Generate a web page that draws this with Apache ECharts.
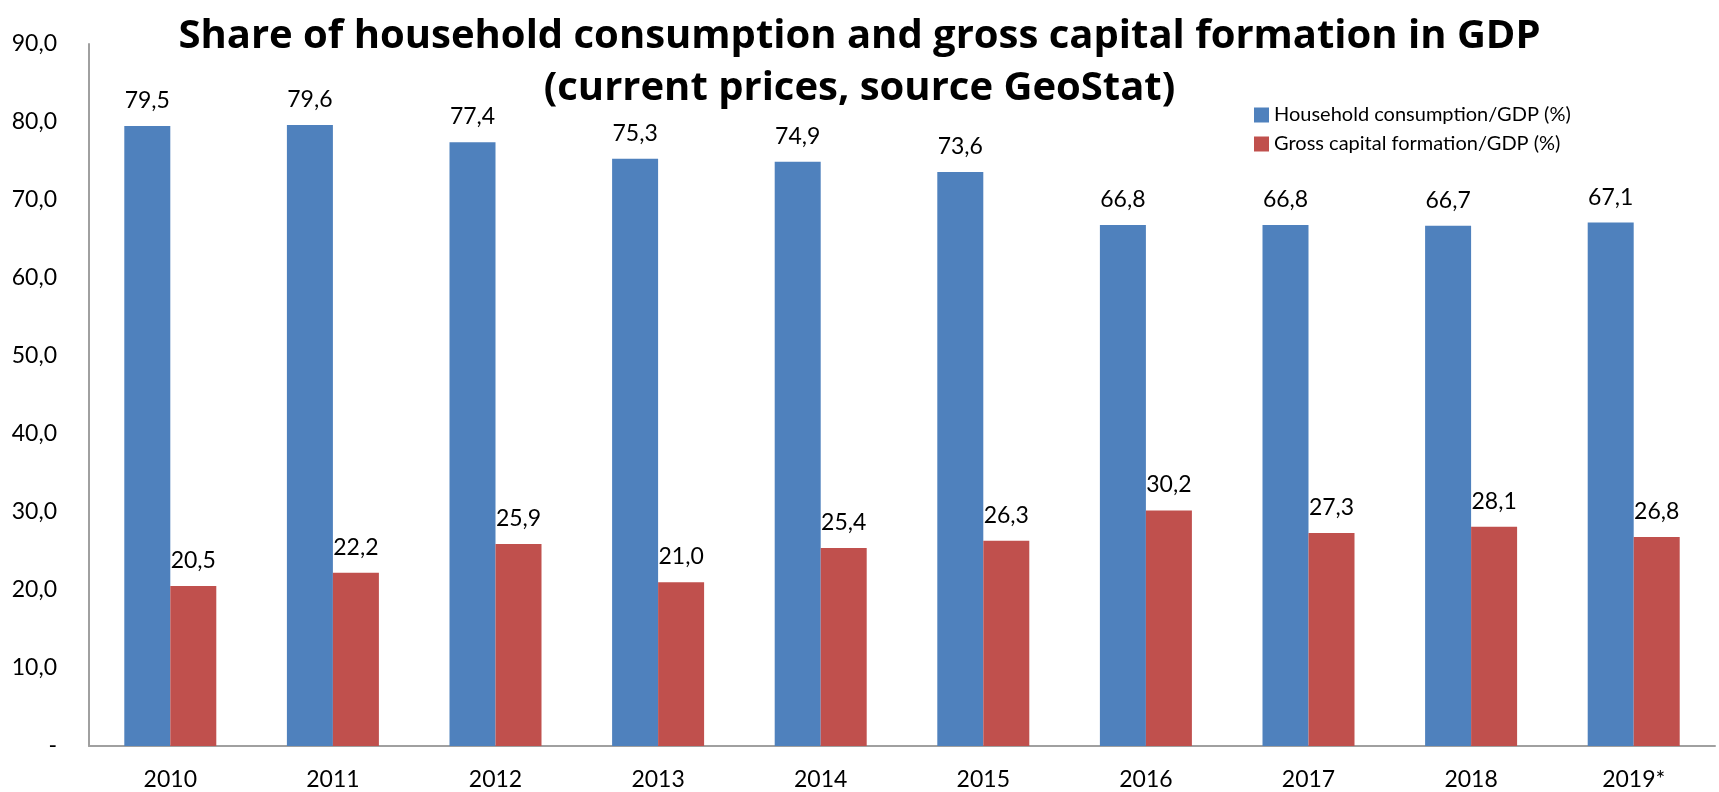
<!DOCTYPE html>
<html>
<head>
<meta charset="utf-8">
<script src="https://cdn.jsdelivr.net/npm/echarts@6/dist/echarts.min.js"></script>
<style>
  html, body { margin: 0; padding: 0; background: #fff; }
  #chart { width: 1719px; height: 792px; }
</style>
</head>
<body>
<div id="chart"></div>
<script>
// Years on the category axis
const years = ['2010', '2011', '2012', '2013', '2014', '2015', '2016', '2017', '2018', '2019*'];
// Household consumption as share of GDP, %
const householdConsumption = [79.5, 79.6, 77.4, 75.3, 74.9, 73.6, 66.8, 66.8, 66.7, 67.1];
// Gross capital formation as share of GDP, %
const grossCapitalFormation = [20.5, 22.2, 25.9, 21.0, 25.4, 26.3, 30.2, 27.3, 28.1, 26.8];
const seriesNames = ['Household consumption/GDP (%)', 'Gross capital formation/GDP (%)'];

const FONT = 'Lato, "Open Sans", sans-serif';
const TITLE_FONT = '"Open Sans", Lato, sans-serif';
const fmt = v => v === 0 ? '-' : v.toFixed(1).replace('.', ',');

const chart = echarts.init(document.getElementById('chart'));
chart.setOption({
  backgroundColor: '#ffffff',
  animation: false,
  title: {
    text: 'Share of household consumption and gross capital formation in GDP\n(current prices, source GeoStat)',
    left: 'center',
    top: 6,
    textStyle: {
      fontFamily: TITLE_FONT,
      fontWeight: 'bold',
      fontSize: 40,
      lineHeight: 52,
      color: '#000'
    }
  },
  legend: {
    orient: 'vertical',
    left: 1249,
    top: 100,
    itemWidth: 15,
    itemHeight: 15,
    itemGap: 9,
    icon: 'rect',
    textStyle: { fontFamily: FONT, fontSize: 20, color: '#000' },
    data: seriesNames
  },
  grid: { left: 89, right: 4, top: 44, bottom: 46, containLabel: false },
  xAxis: {
    type: 'category',
    data: years,
    axisLine: { lineStyle: { color: '#a0a0a0', width: 2 } },
    axisTick: { show: false },
    axisLabel: { fontFamily: FONT, fontSize: 23, color: '#000', margin: 22 }
  },
  yAxis: {
    type: 'value',
    min: 0,
    max: 90,
    interval: 10,
    axisLine: { show: true, lineStyle: { color: '#a0a0a0', width: 2 } },
    axisTick: { show: false },
    splitLine: { show: false },
    axisLabel: {
      fontFamily: FONT, fontSize: 23, color: '#000', margin: 32,
      formatter: fmt
    }
  },
  series: [
    {
      name: seriesNames[0],
      type: 'bar',
      data: householdConsumption,
      barWidth: 46,
      barGap: '0%',
      itemStyle: { color: '#4F81BD' },
      label: {
        show: true, position: 'top', distance: 14,
        fontFamily: FONT, fontSize: 23, color: '#000',
        formatter: p => fmt(p.value)
      }
    },
    {
      name: seriesNames[1],
      type: 'bar',
      data: grossCapitalFormation,
      barWidth: 46,
      barGap: '0%',
      itemStyle: { color: '#C0504D' },
      label: {
        show: true, position: 'top', distance: 14,
        fontFamily: FONT, fontSize: 23, color: '#000',
        formatter: p => fmt(p.value)
      }
    }
  ]
});
</script>
</body>
</html>
